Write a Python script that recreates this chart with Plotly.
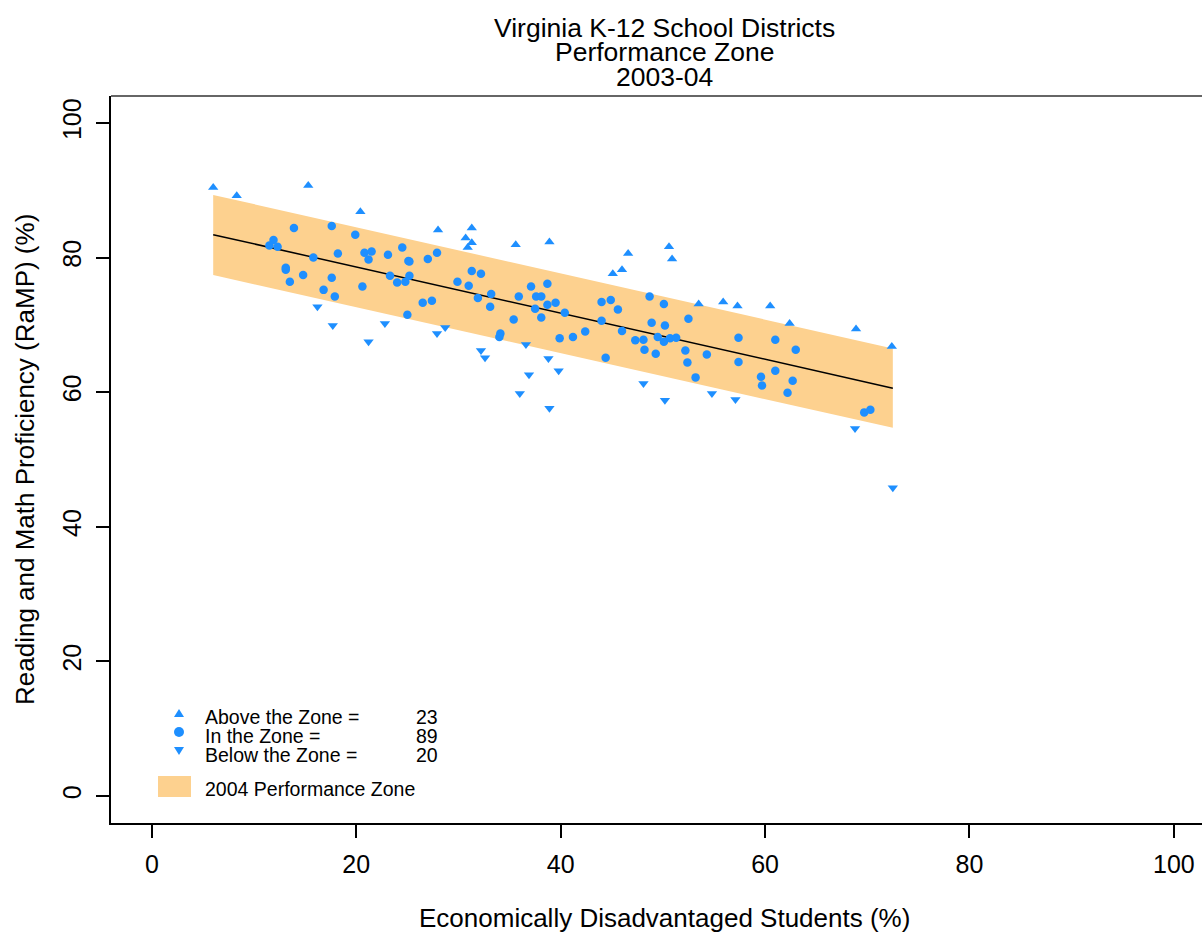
import plotly.graph_objects as go

# ---------------- data ----------------
above_x = [6.0, 8.3, 15.3, 20.4, 28.0, 31.3, 30.7, 31.3, 30.9, 35.6, 38.9, 46.6,
           50.6, 50.9, 45.1, 46.0, 53.5, 55.9, 57.3, 60.5, 62.4, 68.9, 72.4]
above_y = [90.4, 89.2, 90.7, 86.8, 84.1, 84.4, 82.9, 82.2, 81.5, 81.9, 82.3, 80.6,
           81.6, 79.8, 77.6, 78.2, 73.1, 73.4, 72.8, 72.8, 70.2, 69.4, 66.8]

in_x = [13.9, 17.6, 19.9, 11.9, 11.5, 12.3, 18.2, 20.8, 21.5, 15.8, 21.2, 13.1,
        13.1, 14.8, 17.6, 13.5, 20.6, 16.8, 17.9, 23.1, 24.5, 25.1, 25.2, 27.0,
        27.9, 23.3, 24.0, 24.8, 25.2, 29.9, 31.0, 31.3, 32.2, 33.2, 31.9, 33.1,
        35.9, 37.1, 37.6, 38.1, 38.7, 38.7, 37.5, 38.1, 35.4, 26.5, 27.4, 25.0,
        34.1, 34.0, 39.5, 40.4, 44.0, 44.9, 45.6, 44.0, 46.0, 48.7, 50.1, 48.9,
        50.2, 52.5, 39.9, 41.2, 42.4, 47.3, 48.1, 49.5, 50.1, 50.7, 51.3, 48.2,
        49.3, 52.2, 52.4, 54.3, 53.2, 44.4, 57.4, 61.0, 63.0, 57.4, 59.6, 59.7,
        61.0, 62.7, 62.2, 69.7, 70.3]
in_y = [84.4, 84.7, 83.4, 82.6, 81.8, 81.6, 80.6, 80.7, 80.9, 80.0, 79.7, 78.5,
        78.2, 77.4, 77.0, 76.4, 75.7, 75.2, 74.2, 80.4, 81.5, 79.5, 79.4, 79.8,
        80.7, 77.3, 76.3, 76.4, 77.3, 76.4, 75.8, 78.0, 77.6, 74.6, 74.0, 72.7,
        74.2, 75.7, 74.2, 74.2, 76.1, 73.0, 72.4, 71.1, 70.8, 73.3, 73.6, 71.5,
        68.7, 68.2, 73.3, 71.8, 73.4, 73.7, 72.3, 70.6, 69.1, 74.2, 73.1, 70.3,
        69.9, 70.9, 68.0, 68.2, 69.0, 67.7, 67.8, 68.2, 67.5, 68.0, 68.1, 66.3,
        65.7, 66.2, 64.4, 65.6, 62.2, 65.1, 68.1, 67.8, 66.3, 64.5, 62.3, 61.0,
        63.2, 61.7, 59.9, 57.0, 57.4]

below_x = [16.2, 17.7, 21.2, 22.8, 27.9, 28.7, 32.2, 32.6, 36.6, 38.8, 36.9, 36.0,
           38.9, 39.8, 48.1, 50.2, 54.8, 57.1, 68.8, 72.5]
below_y = [72.7, 69.9, 67.5, 70.2, 68.7, 69.6, 66.2, 65.1, 67.1, 65.0, 62.6, 59.8,
           57.6, 63.2, 61.3, 58.8, 59.8, 58.9, 54.6, 45.8]

zone_x = [6.0, 72.5]
zone_upper = [89.3, 66.5]
zone_lower = [77.4, 54.7]
zone_fit = [83.4, 60.6]

x_ticks = [0, 20, 40, 60, 80, 100]
y_ticks = [0, 20, 40, 60, 80, 100]

legend_labels = ["Above the Zone =", "In the Zone =", "Below the Zone ="]
legend_counts = [len(above_x), len(in_x), len(below_x)]
zone_label = "2004 Performance Zone"
title_lines = ["Virginia K-12 School Districts", "Performance Zone", "2003-04"]
x_title = "Economically Disadvantaged Students (%)"
y_title = "Reading and Math Proficiency (RaMP) (%)"

# ---------------- style ----------------
BLUE = "#1E8FFF"
BAND = "#FDD18F"
FONT = "Liberation Sans, Arial, sans-serif"
# the original plot region runs past the right edge of the 1202px window;
# the figure is drawn a little wider and the page clips it.
W, H = 1216, 934
L, T = 111, 96          # plot area left/top in px
PW, PH = 1105, 727      # plot area size in px


def px_x(p):
    return (p - L) / PW


def px_y(p):
    return (T + PH - p) / PH


fig = go.Figure()

# performance zone band
fig.add_trace(go.Scatter(x=zone_x, y=zone_lower, mode="lines", line=dict(width=0),
                         hoverinfo="skip", showlegend=False))
fig.add_trace(go.Scatter(x=zone_x, y=zone_upper, mode="lines", line=dict(width=0),
                         fill="tonexty", fillcolor=BAND, hoverinfo="skip", showlegend=False))
fig.add_trace(go.Scatter(x=zone_x, y=zone_fit, mode="lines",
                         line=dict(color="black", width=1.5), showlegend=False))

# points
fig.add_trace(go.Scatter(x=above_x, y=above_y, mode="markers", showlegend=False,
                         marker=dict(symbol="triangle-up", size=9, color=BLUE,
                                     line=dict(width=0))))
fig.add_trace(go.Scatter(x=in_x, y=in_y, mode="markers", showlegend=False,
                         marker=dict(symbol="circle", size=8.5, color=BLUE,
                                     line=dict(width=0))))
fig.add_trace(go.Scatter(x=below_x, y=below_y, mode="markers", showlegend=False,
                         marker=dict(symbol="triangle-down", size=9, color=BLUE,
                                     line=dict(width=0))))

shapes = []
# box top line
shapes.append(dict(type="line", xref="paper", yref="paper", x0=0, x1=1, y0=1, y1=1,
                   line=dict(color="#333333", width=1.5)))

# legend keys
cx = px_x(179)
hw = 5 / PW
def tri(cy_px, up=True):
    h = 4 / PH
    cy = px_y(cy_px)
    if up:
        return f"M {cx - hw},{cy - h} L {cx + hw},{cy - h} L {cx},{cy + h} Z"
    return f"M {cx - hw},{cy + h} L {cx + hw},{cy + h} L {cx},{cy - h} Z"

shapes.append(dict(type="path", xref="paper", yref="paper", path=tri(713, True),
                   fillcolor=BLUE, line=dict(width=0)))
shapes.append(dict(type="circle", xref="paper", yref="paper",
                   x0=cx - 5 / PW, x1=cx + 5 / PW, y0=px_y(737), y1=px_y(727),
                   fillcolor=BLUE, line=dict(width=0)))
shapes.append(dict(type="path", xref="paper", yref="paper", path=tri(751, False),
                   fillcolor=BLUE, line=dict(width=0)))
shapes.append(dict(type="rect", xref="paper", yref="paper",
                   x0=px_x(158), x1=px_x(191), y0=px_y(797), y1=px_y(776),
                   fillcolor=BAND, line=dict(width=0)))

annotations = []
for i, (txt, yy) in enumerate(zip(title_lines, [28, 52, 77])):
    annotations.append(dict(text=txt, xref="paper", yref="paper", x=px_x(664), y=px_y(yy),
                            xanchor="center", yanchor="middle", showarrow=False,
                            font=dict(family=FONT, size=26.5, color="black")))
annotations.append(dict(text=x_title, xref="paper", yref="paper", x=px_x(664), y=px_y(918),
                        xanchor="center", yanchor="middle", showarrow=False,
                        font=dict(family=FONT, size=26, color="black")))
annotations.append(dict(text=y_title, xref="paper", yref="paper", x=px_x(25), y=px_y(460),
                        xanchor="center", yanchor="middle", textangle=-90, showarrow=False,
                        font=dict(family=FONT, size=26, color="black")))
for lbl, cnt, yy in zip(legend_labels, legend_counts, [717, 736, 755]):
    annotations.append(dict(text=lbl, xref="paper", yref="paper", x=px_x(203), y=px_y(yy),
                            xanchor="left", yanchor="middle", showarrow=False,
                            font=dict(family=FONT, size=19.5, color="black")))
    annotations.append(dict(text=str(cnt), xref="paper", yref="paper", x=px_x(440), y=px_y(yy),
                            xanchor="right", yanchor="middle", showarrow=False,
                            font=dict(family=FONT, size=19.5, color="black")))
annotations.append(dict(text=zone_label, xref="paper", yref="paper", x=px_x(203), y=px_y(789),
                        xanchor="left", yanchor="middle", showarrow=False,
                        font=dict(family=FONT, size=19.5, color="black")))

fig.update_layout(
    width=W, height=H,
    margin=dict(l=L, r=W - L - PW, t=T, b=H - T - PH, pad=0),
    plot_bgcolor="white", paper_bgcolor="white",
    font=dict(family=FONT, size=25, color="black"),
    shapes=shapes, annotations=annotations, showlegend=False,
    xaxis=dict(range=[-4, -4 + PW / 10.22], tickvals=x_ticks, ticks="outside",
               ticklen=13, tickwidth=1.5, tickcolor="black", showline=True,
               linecolor="black", linewidth=1.5, showgrid=False, zeroline=False,
               tickfont=dict(family=FONT, size=25), ticklabelstandoff=5),
    yaxis=dict(range=[-4, 104], tickvals=y_ticks, ticks="outside", ticklen=13,
               tickwidth=1.5, tickcolor="black", showline=True, linecolor="black",
               linewidth=1.5, showgrid=False, zeroline=False, tickangle=-90,
               tickfont=dict(family=FONT, size=25), ticklabelstandoff=5),
)

fig.write_html("out.html",
               config={"displayModeBar": False},
               post_script="document.body.style.margin='0px';"
                           "document.body.style.overflow='hidden';")
